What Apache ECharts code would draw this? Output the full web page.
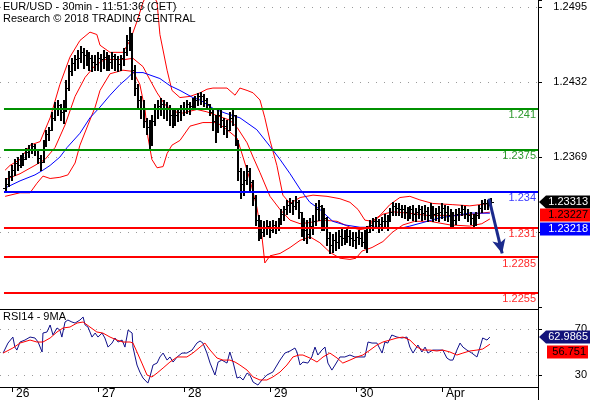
<!DOCTYPE html>
<html><head><meta charset="utf-8">
<script src="https://cdn.jsdelivr.net/npm/echarts@6/dist/echarts.min.js"></script>
<style>html,body{margin:0;padding:0;background:#fff}#c{width:590px;height:400px}</style>
</head><body><div id="c"></div>
<script>
// ---------------- DATA ----------------
const firstBar = -2; // bar index of first bar (day "26" starts at index 0, 30 bars per day tick)
const barOpen = [
1.2343,1.2346,1.2353,1.2358,1.2364,1.2362,1.2368,1.2367,1.2373,1.2376,
1.2378,1.2375,1.2368,1.2365,1.2379,1.2388,1.2392,1.2402,1.2409,1.2413,
1.2407,1.2410,1.2427,1.2441,1.2448,1.2451,1.2452,1.2457,1.2455,1.2451,
1.2452,1.2449,1.2447,1.2452,1.2451,1.2453,1.2451,1.2449,1.2454,1.2451,
1.2447,1.2452,1.2457,1.2467,1.2472,1.2442,1.2427,1.2417,1.2409,1.2399,
1.2394,1.2383,1.2399,1.2410,1.2412,1.2414,1.2409,1.2410,1.2404,1.2402,
1.2404,1.2407,1.2409,1.2410,1.2414,1.2412,1.2415,1.2417,1.2420,1.2420,
1.2417,1.2414,1.2407,1.2399,1.2394,1.2404,1.2400,1.2395,1.2392,1.2402,
1.2404,1.2383,1.2357,1.2346,1.2350,1.2357,1.2348,1.2335,1.2316,1.2309,
1.2306,1.2309,1.2311,1.2308,1.2312,1.2309,1.2315,1.2321,1.2325,1.2329,
1.2330,1.2328,1.2331,1.2323,1.2309,1.2308,1.2304,1.2311,1.2315,1.2325,
1.2328,1.2315,1.2318,1.2301,1.2295,1.2299,1.2298,1.2303,1.2301,1.2304,
1.2303,1.2301,1.2299,1.2302,1.2301,1.2298,1.2299,1.2306,1.2312,1.2315,
1.2315,1.2313,1.2315,1.2315,1.2318,1.2323,1.2328,1.2326,1.2325,1.2325,
1.2323,1.2323,1.2325,1.2321,1.2323,1.2325,1.2322,1.2324,1.2320,1.2325,
1.2321,1.2322,1.2323,1.2326,1.2323,1.2320,1.2318,1.2316,1.2321,1.2323,
1.2325,1.2321,1.2320,1.2318,1.2316,1.2320,1.2326,1.2330,1.2330,1.2329];
const barHigh = [
1.2351,1.2357,1.2362,1.2367,1.2369,1.2371,1.2372,1.2377,1.2379,1.2381,
1.2380,1.2375,1.2371,1.2383,1.2392,1.2394,1.2407,1.2415,1.2417,1.2414,
1.2417,1.2434,1.2446,1.2452,1.2455,1.2459,1.2462,1.2461,1.2459,1.2457,
1.2455,1.2455,1.2457,1.2456,1.2459,1.2457,1.2455,1.2457,1.2456,1.2454,
1.2455,1.2461,1.2472,1.2478,1.2473,1.2446,1.2430,1.2420,1.2417,1.2402,
1.2400,1.2404,1.2414,1.2417,1.2419,1.2417,1.2415,1.2413,1.2410,1.2409,
1.2410,1.2413,1.2415,1.2417,1.2415,1.2419,1.2420,1.2423,1.2424,1.2422,
1.2419,1.2414,1.2409,1.2404,1.2409,1.2410,1.2402,1.2400,1.2407,1.2410,
1.2404,1.2383,1.2360,1.2357,1.2362,1.2360,1.2350,1.2337,1.2320,1.2316,
1.2315,1.2316,1.2315,1.2316,1.2315,1.2318,1.2325,1.2328,1.2333,1.2335,
1.2333,1.2336,1.2333,1.2323,1.2318,1.2316,1.2318,1.2320,1.2330,1.2333,
1.2329,1.2326,1.2319,1.2306,1.2304,1.2306,1.2308,1.2309,1.2308,1.2309,
1.2308,1.2306,1.2306,1.2308,1.2306,1.2308,1.2311,1.2316,1.2318,1.2319,
1.2317,1.2319,1.2321,1.2320,1.2326,1.2331,1.2330,1.2330,1.2329,1.2329,
1.2327,1.2328,1.2329,1.2326,1.2329,1.2328,1.2329,1.2327,1.2330,1.2328,
1.2326,1.2328,1.2330,1.2329,1.2328,1.2325,1.2323,1.2325,1.2326,1.2329,
1.2328,1.2325,1.2323,1.2321,1.2323,1.2329,1.2333,1.2334,1.2333,1.2335];
const barLow = [
1.2341,1.2345,1.2350,1.2354,1.2358,1.2361,1.2362,1.2367,1.2369,1.2372,
1.2371,1.2364,1.2358,1.2365,1.2378,1.2383,1.2392,1.2400,1.2404,1.2400,
1.2398,1.2408,1.2425,1.2438,1.2442,1.2444,1.2449,1.2444,1.2446,1.2442,
1.2441,1.2442,1.2442,1.2441,1.2444,1.2442,1.2442,1.2444,1.2442,1.2441,
1.2442,1.2446,1.2455,1.2459,1.2435,1.2421,1.2411,1.2402,1.2394,1.2388,
1.2375,1.2379,1.2396,1.2402,1.2404,1.2402,1.2400,1.2396,1.2394,1.2396,
1.2399,1.2400,1.2404,1.2406,1.2405,1.2409,1.2410,1.2413,1.2414,1.2412,
1.2409,1.2404,1.2392,1.2382,1.2390,1.2394,1.2388,1.2386,1.2392,1.2396,
1.2379,1.2350,1.2335,1.2337,1.2346,1.2341,1.2329,1.2312,1.2299,1.2301,
1.2303,1.2304,1.2302,1.2306,1.2305,1.2308,1.2313,1.2316,1.2321,1.2323,
1.2321,1.2325,1.2318,1.2303,1.2299,1.2297,1.2301,1.2304,1.2312,1.2316,
1.2308,1.2308,1.2295,1.2288,1.2289,1.2291,1.2293,1.2295,1.2296,1.2298,
1.2295,1.2294,1.2293,1.2296,1.2294,1.2293,1.2289,1.2306,1.2308,1.2309,
1.2306,1.2308,1.2309,1.2308,1.2315,1.2320,1.2320,1.2320,1.2319,1.2318,
1.2316,1.2318,1.2316,1.2315,1.2318,1.2316,1.2317,1.2315,1.2318,1.2315,
1.2316,1.2315,1.2318,1.2316,1.2315,1.2311,1.2310,1.2313,1.2316,1.2320,
1.2318,1.2315,1.2313,1.2311,1.2312,1.2318,1.2323,1.2325,1.2325,1.2328];
const barClose = [
1.2346,1.2353,1.2358,1.2364,1.2362,1.2368,1.2367,1.2373,1.2376,1.2378,
1.2375,1.2368,1.2365,1.2379,1.2388,1.2392,1.2402,1.2409,1.2413,1.2407,
1.2410,1.2427,1.2441,1.2448,1.2451,1.2452,1.2457,1.2455,1.2451,1.2452,
1.2449,1.2447,1.2452,1.2451,1.2453,1.2451,1.2449,1.2454,1.2451,1.2447,
1.2452,1.2457,1.2467,1.2472,1.2442,1.2427,1.2417,1.2409,1.2399,1.2394,
1.2383,1.2399,1.2410,1.2412,1.2414,1.2409,1.2410,1.2404,1.2402,1.2404,
1.2407,1.2409,1.2410,1.2414,1.2412,1.2415,1.2417,1.2420,1.2420,1.2417,
1.2414,1.2407,1.2399,1.2394,1.2404,1.2400,1.2395,1.2392,1.2402,1.2404,
1.2383,1.2357,1.2346,1.2350,1.2357,1.2348,1.2335,1.2316,1.2309,1.2306,
1.2309,1.2311,1.2308,1.2312,1.2309,1.2315,1.2321,1.2325,1.2329,1.2330,
1.2328,1.2331,1.2323,1.2309,1.2308,1.2304,1.2311,1.2315,1.2325,1.2328,
1.2315,1.2318,1.2301,1.2295,1.2299,1.2298,1.2303,1.2301,1.2304,1.2303,
1.2301,1.2299,1.2302,1.2301,1.2298,1.2299,1.2306,1.2312,1.2315,1.2315,
1.2313,1.2315,1.2315,1.2318,1.2323,1.2328,1.2326,1.2325,1.2325,1.2323,
1.2323,1.2325,1.2321,1.2323,1.2325,1.2322,1.2324,1.2320,1.2325,1.2321,
1.2322,1.2323,1.2326,1.2323,1.2320,1.2318,1.2316,1.2321,1.2323,1.2325,
1.2321,1.2320,1.2318,1.2316,1.2320,1.2326,1.2330,1.2330,1.2329,1.23313];

const bbUpper = [[-2.4,1.2358],[-0.7,1.2362],[2.8,1.2367],[6.3,1.2379],[9.8,1.2382],[13.3,1.2402],[16.7,1.2430],[20.2,1.2453],[23.7,1.2467],[27.2,1.2474],[29.6,1.2472],[30.7,1.2463],[34.2,1.2457],[38.7,1.2457],[41.2,1.2467],[43.6,1.2483],[45.7,1.2499],[48.1,1.2511],[50.6,1.2499],[51.6,1.2472],[54.1,1.2442],[55.8,1.2425],[58.6,1.2419],[62.1,1.2420],[65.6,1.2423],[68.0,1.2426],[70.1,1.2427],[75.0,1.2427],[77.8,1.2421],[79.5,1.2427],[82.0,1.2425],[84.1,1.2423],[86.5,1.2417],[88.2,1.2402],[90.0,1.2383],[92.4,1.2362],[94.5,1.2337],[97.0,1.2330],[100.5,1.2335],[105.0,1.2337],[109.9,1.2336],[114.4,1.2334],[117.9,1.2331],[120.7,1.2325],[123.1,1.2316],[125.6,1.2315],[128.4,1.2320],[131.8,1.2329],[135.3,1.2335],[138.8,1.2336],[142.3,1.2333],[146.8,1.2330],[153.8,1.2329],[159.7,1.2328],[166.7,1.2330]];
const bbMiddle = [[-2.4,1.2350],[2.8,1.2355],[8.0,1.2362],[11.5,1.2367],[15.0,1.2377],[18.5,1.2396],[22.0,1.2420],[25.5,1.2436],[29.0,1.2446],[32.4,1.2451],[35.9,1.2451],[39.4,1.2451],[42.2,1.2452],[45.7,1.2445],[48.1,1.2434],[50.6,1.2423],[53.4,1.2413],[56.8,1.2407],[59.6,1.2406],[64.5,1.2409],[68.0,1.2407],[72.5,1.2403],[76.0,1.2400],[78.5,1.2394],[82.0,1.2381],[84.1,1.2369],[86.5,1.2356],[90.0,1.2336],[93.5,1.2325],[97.0,1.2316],[100.5,1.2313],[103.9,1.2314],[108.5,1.2316],[113.4,1.2315],[117.9,1.2310],[121.4,1.2308],[123.8,1.2309],[125.9,1.2315],[129.4,1.2321],[132.8,1.2323],[137.8,1.2322],[144.8,1.2320],[149.3,1.2320],[155.2,1.2320],[160.8,1.2321],[166.7,1.23227]];
const bbLower = [[-2.4,1.2336],[2.8,1.2339],[6.3,1.2339],[8.7,1.2347],[10.8,1.2353],[13.3,1.2351],[16.7,1.2352],[19.5,1.2354],[22.0,1.2364],[23.7,1.2379],[26.5,1.2396],[29.0,1.2411],[30.7,1.2425],[34.2,1.2439],[38.7,1.2442],[42.2,1.2441],[44.6,1.2430],[46.4,1.2409],[47.4,1.2386],[48.8,1.2367],[50.6,1.2360],[52.7,1.2361],[54.1,1.2372],[55.8,1.2379],[58.6,1.2383],[62.1,1.2395],[66.6,1.2398],[71.5,1.2398],[75.0,1.2392],[78.5,1.2385],[80.6,1.2369],[83.0,1.2350],[85.4,1.2327],[87.2,1.2302],[88.2,1.2280],[90.0,1.2286],[93.5,1.2288],[97.0,1.2293],[100.5,1.2299],[103.9,1.2302],[107.4,1.2297],[110.9,1.2289],[114.4,1.2284],[117.9,1.2283],[120.0,1.2284],[122.1,1.2290],[125.6,1.2293],[129.4,1.2298],[132.8,1.2306],[136.4,1.2312],[140.5,1.2315],[145.8,1.2315],[152.8,1.2312],[159.7,1.2311],[163.9,1.2313],[166.7,1.2317]];
const maBlue = [[-2.4,1.2343],[2.8,1.2349],[8.0,1.2354],[10.8,1.2358],[13.3,1.2362],[16.7,1.2369],[19.2,1.2377],[23.7,1.2389],[27.2,1.2402],[30.7,1.2411],[34.2,1.2421],[37.7,1.2430],[40.1,1.2435],[42.2,1.2440],[45.7,1.2440],[51.6,1.2435],[55.1,1.2429],[58.6,1.2425],[63.1,1.2419],[65.6,1.2417],[70.1,1.2410],[74.3,1.2406],[79.5,1.2402],[85.4,1.2392],[90.0,1.2378],[93.5,1.2367],[97.0,1.2355],[100.5,1.2342],[103.9,1.2331],[107.4,1.2325],[111.9,1.2315],[116.1,1.2312],[121.4,1.2310],[128.4,1.2310],[135.3,1.2309],[138.8,1.2311],[143.4,1.2314],[149.3,1.2318],[155.2,1.2320],[159.7,1.2322],[166.7,1.23218]];

const rsiLine = [[-3.1,49.1],[-1.4,57.8],[0.3,63.0],[1.0,54.3],[1.7,51.7],[2.8,58.7],[4.5,60.4],[6.3,63.0],[8.0,62.2],[9.1,58.7],[10.5,50.0],[10.8,66.5],[12.2,67.4],[13.3,73.5],[14.3,64.8],[15.7,70.9],[16.7,69.1],[17.4,63.0],[18.5,76.1],[19.5,77.8],[20.9,76.1],[22.0,75.2],[23.7,77.8],[24.8,80.4],[25.5,73.5],[26.5,71.7],[27.2,67.4],[27.9,63.0],[29.0,66.5],[30.0,63.0],[31.4,66.5],[32.4,62.2],[33.5,54.3],[34.9,57.8],[35.9,62.2],[37.0,58.7],[38.4,60.4],[39.4,54.3],[40.5,69.1],[41.9,66.5],[42.2,54.3],[43.6,38.7],[44.6,32.6],[45.7,27.4],[47.4,23.0],[48.1,28.3],[49.2,38.7],[50.6,40.4],[51.6,45.7],[52.7,49.1],[54.1,43.0],[55.1,45.7],[56.2,41.3],[57.6,45.7],[59.3,49.1],[61.0,49.1],[62.8,51.7],[64.5,57.8],[65.6,59.6],[66.6,57.8],[68.0,49.1],[69.1,40.4],[70.8,30.0],[71.9,41.3],[73.2,43.0],[75.0,40.4],[76.0,50.0],[77.1,41.3],[78.5,27.4],[79.5,28.3],[80.6,25.7],[82.0,31.7],[83.0,30.0],[84.1,23.9],[85.8,21.3],[87.2,25.7],[88.9,30.0],[91.0,32.6],[93.5,43.0],[95.2,49.1],[97.0,50.9],[98.7,53.5],[99.4,50.0],[100.5,38.7],[101.5,41.3],[103.2,40.4],[104.6,45.7],[105.7,54.3],[106.7,47.4],[108.1,51.7],[109.2,54.3],[110.2,40.4],[111.6,34.3],[112.7,38.7],[114.4,45.7],[116.1,45.7],[117.9,47.4],[119.6,45.7],[121.4,45.7],[123.1,45.7],[124.2,58.7],[125.6,57.8],[127.3,57.8],[129.1,49.1],[130.1,58.7],[131.1,57.8],[132.5,64.8],[134.3,63.0],[136.0,62.2],[137.8,63.0],[138.8,54.3],[139.9,49.1],[141.6,56.1],[143.0,50.0],[144.1,54.3],[145.1,49.1],[146.8,51.7],[148.6,51.7],[150.3,51.7],[151.7,44.8],[152.8,43.0],[153.8,43.0],[155.2,51.7],[156.3,57.8],[157.3,54.3],[158.7,51.7],[160.4,49.1],[162.2,45.7],[163.2,53.5],[164.2,62.2],[165.7,60.4],[166.7,62.9865]];
const rsiMA = [[-3.1,49.1],[0.3,53.5],[2.8,57.8],[6.3,60.4],[8.7,58.7],[10.8,58.7],[13.3,62.2],[15.7,67.4],[17.8,70.9],[20.2,71.7],[22.7,75.2],[24.8,76.1],[27.2,71.7],[29.6,67.4],[31.7,66.5],[34.2,63.0],[36.6,60.4],[38.7,58.7],[41.2,58.7],[42.2,57.8],[43.6,50.0],[45.3,40.4],[47.1,30.0],[48.8,28.3],[50.6,31.7],[52.7,36.1],[55.1,41.3],[57.6,45.7],[61.0,45.7],[63.1,49.1],[65.6,54.3],[67.3,57.8],[69.1,51.7],[71.5,44.8],[73.6,43.0],[76.0,43.0],[77.8,41.3],[79.5,38.7],[82.0,34.3],[84.1,28.3],[86.5,25.7],[88.9,25.7],[91.0,28.3],[93.5,32.6],[95.9,38.7],[98.0,45.7],[100.1,47.4],[101.5,47.4],[103.9,44.8],[106.4,41.3],[108.5,45.7],[110.9,49.1],[113.4,44.8],[115.4,40.4],[117.9,43.0],[120.3,45.7],[122.4,47.4],[124.9,51.7],[127.3,56.1],[129.4,58.7],[131.8,60.4],[134.3,62.2],[136.4,63.0],[138.8,60.4],[141.3,54.3],[143.4,51.7],[145.8,51.7],[148.2,50.9],[150.3,51.7],[152.8,50.0],[155.2,47.4],[157.3,49.1],[159.7,50.9],[162.2,51.7],[164.2,52.6],[166.7,56.751]];

const levelValues = [1.241, 1.2375, 1.234, 1.231, 1.2285, 1.2255];
const dayTicks = [0, 30, 60, 90, 120, 150];
const dayLabels = ['26', '27', '28', '29', '30', 'Apr'];
const priceLabelValues = [1.2495, 1.2432, 1.2369];
const rsiTickValues = [30, 70];
const rsiGridValues = [30, 50, 70];
const lastPrice = 1.23313, lastBBMid = 1.23227, lastMA = 1.23218;
const lastRSI = 62.9865, lastRSIMA = 56.751;
const forecastFrom = [166.4, 1.2334], forecastTo = [171.0, 1.2288];

// ---------------- STYLE / LAYOUT ----------------
const FONT = 'Arial, "Liberation Sans", sans-serif';
const X_MIN = -4.19, X_MAX = 183.5, LEVEL_START = -2.8;
const PLOT_W = 538;
const GRID_DOT = '#9a9a9a';
const levelColors = ['#009000', '#009000', '#0000ff', '#ff0000', '#ff0000', '#ff0000'];
const levelTextColors = ['#2f9a2f', '#2f9a2f', '#3a3aff', '#ff2a2a', '#ff2a2a', '#ff2a2a'];

const bars = barClose.map((c, k) => [firstBar + k, barOpen[k], barHigh[k], barLow[k], c]);

function renderBar(params, api) {
  const x = api.value(0);
  const pO = api.coord([x, api.value(1)]);
  const pH = api.coord([x, api.value(2)]);
  const pL = api.coord([x, api.value(3)]);
  const pC = api.coord([x, api.value(4)]);
  const cx = Math.round(pH[0]);
  const yo = Math.round(pO[1]) + 0.5, yc = Math.round(pC[1]) + 0.5;
  const st1 = {stroke: '#000', lineWidth: 1};
  return {type: 'group', children: [
    {type: 'line', shape: {x1: cx, y1: Math.round(pH[1]), x2: cx, y2: Math.round(pL[1]) + 1}, style: {stroke: '#000', lineWidth: 2}},
    {type: 'line', shape: {x1: cx - 3, y1: yo, x2: cx, y2: yo}, style: st1},
    {type: 'line', shape: {x1: cx, y1: yc, x2: cx + 3, y2: yc}, style: st1}
  ]};
}

function lineSeries(data, color, xi, yi, extra) {
  return Object.assign({type: 'line', data, xAxisIndex: xi, yAxisIndex: yi, showSymbol: false, symbol: 'none',
    lineStyle: {color, width: 1}, z: 2, clip: true, silent: true, animation: false}, extra || {});
}

const levelMarks = levelValues.map((v, i) => [
  {coord: [LEVEL_START, v], lineStyle: {color: levelColors[i], width: 2, type: 'solid'},
   label: {show: true, position: 'insideEndBottom', formatter: String(v), color: levelTextColors[i],
           fontSize: 11, fontFamily: FONT, distance: [2, 1]}},
  {coord: [X_MAX, v]}
]);

const chart = echarts.init(document.getElementById('c'), null, {renderer: 'canvas'});
const titleStyle = {fontSize: 11, fontWeight: 'normal', color: '#000', fontFamily: FONT};
chart.setOption({
  animation: false,
  backgroundColor: '#fff',
  title: [
    {text: 'EUR/USD - 30min - 11:51:36 (CET)', left: 3, top: 1, padding: 0, textStyle: titleStyle, z: 20},
    {text: 'Research \u00a9 2018 TRADING CENTRAL', left: 3, top: 13, padding: 0, textStyle: titleStyle, z: 20},
    {text: 'RSI14 - 9MA', left: 3, top: 311, padding: 0, textStyle: titleStyle, z: 20}
  ],
  grid: [
    {left: 0, top: 0, width: PLOT_W, height: 307},
    {left: 0, top: 309, width: PLOT_W, height: 78}
  ],
  xAxis: [
    {type: 'value', gridIndex: 0, min: X_MIN, max: X_MAX, show: false},
    {type: 'value', gridIndex: 1, min: X_MIN, max: X_MAX, position: 'bottom',
     axisLine: {show: true, onZero: false, lineStyle: {color: '#000', width: 1}},
     axisTick: {show: true, customValues: dayTicks, length: 5, lineStyle: {color: '#000'}},
     axisLabel: {show: true, customValues: dayTicks, formatter: v => { const k = dayTicks.indexOf(v); return k >= 0 ? dayLabels[k] : ''; },
                 align: 'left', margin: 1, padding: [0, 0, 0, 4], fontSize: 12, color: '#000', fontFamily: FONT},
     splitLine: {show: false}},
    {type: 'value', gridIndex: 1, min: X_MIN, max: X_MAX, position: 'top',
     axisLine: {show: true, onZero: false, lineStyle: {color: '#000', width: 1}},
     axisTick: {show: false}, axisLabel: {show: false}, splitLine: {show: false}}
  ],
  yAxis: [
    {type: 'value', gridIndex: 0, position: 'right', min: 1.2243, max: 1.2501, interval: 0.0063,
     axisLine: {show: true, onZero: false, lineStyle: {color: '#000'}},
     axisTick: {show: true, length: 4, lineStyle: {color: '#000'}},
     axisLabel: {formatter: v => priceLabelValues.some(p => Math.abs(p - v) < 1e-7) ? v.toFixed(4) : '',
                 align: 'right', margin: 49, fontSize: 11, color: '#000', fontFamily: FONT},
     splitLine: {show: true, showMinLine: false, showMaxLine: false, lineStyle: {color: GRID_DOT, type: [1, 7], width: 1}}},
    {type: 'value', gridIndex: 1, position: 'right', min: 19.6, max: 87.4,
     axisLine: {show: true, onZero: false, lineStyle: {color: '#000'}},
     axisTick: {show: true, customValues: rsiTickValues, length: 4, lineStyle: {color: '#000'}},
     axisLabel: {show: true, customValues: rsiTickValues, align: 'right', margin: 49, fontSize: 11, color: '#000', fontFamily: FONT},
     splitLine: {show: false}}
  ],
  series: [
    lineSeries(bbUpper, '#ff0000', 0, 0),
    lineSeries(bbLower, '#ff0000', 0, 0),
    lineSeries(bbMiddle, '#ff0000', 0, 0, {
      markLine: {silent: true, animation: false, symbol: ['none', 'none'], z: 5, data: levelMarks}
    }),
    lineSeries(maBlue, '#0000ff', 0, 0, {
      markLine: {silent: true, animation: false, symbol: ['none', 'arrow'], symbolSize: [10, 14], z: 6,
        lineStyle: {color: '#1b2a8c', width: 3, type: 'solid'}, label: {show: false},
        data: [[{coord: forecastFrom}, {coord: forecastTo}]]}
    }),
    {type: 'custom', xAxisIndex: 0, yAxisIndex: 0, data: bars, renderItem: renderBar, z: 3, clip: true, silent: true,
     encode: {x: 0, y: [1, 2, 3, 4]}, animation: false},
    lineSeries(rsiLine, '#10108a', 1, 1, {z: 3}),
    lineSeries(rsiMA, '#ff0000', 1, 1, {z: 3,
      markLine: {silent: true, animation: false, symbol: ['none', 'none'], z: 1, label: {show: false},
        lineStyle: {color: GRID_DOT, type: [1, 7], width: 1},
        data: rsiGridValues.map(v => ({yAxis: v}))}})
  ]
});

// value tags on the right axis (positioned through the axis scales)
(function drawTags() {
  const py = (ax, v) => chart.convertToPixel({yAxisIndex: ax}, v);
  const items = [{type: 'line', shape: {x1: PLOT_W + 0.5, y1: 0, x2: PLOT_W + 0.5, y2: 400}, style: {stroke: '#000', lineWidth: 1}, z: 9}];
  const H = 13;
  function tag(y, text, fill, color, arrow, x0, x1) {
    y = Math.round(y);
    if (arrow) {
      items.push({type: 'polygon', shape: {points: [[x0, y], [x0 + 7, y - H / 2], [x1, y - H / 2], [x1, y + H / 2], [x0 + 7, y + H / 2]]}, style: {fill}, z: 10});
    } else {
      items.push({type: 'rect', shape: {x: x0, y: y - H / 2, width: x1 - x0, height: H}, style: {fill}, z: 10});
    }
    items.push({type: 'text', x: x1 - 2, y: y, style: {text, fill: color, font: '11px ' + FONT, align: 'right', verticalAlign: 'middle'}, z: 11});
  }
  const y1 = py(0, lastPrice);
  const y2 = Math.max(py(0, lastBBMid), y1 + 13.5);
  const y3 = Math.max(py(0, lastMA), y2 + 13.5);
  tag(y1, lastPrice.toFixed(5), '#000000', '#ffffff', true, 539, 590);
  tag(y2, lastBBMid.toFixed(5), '#ff0000', '#000000', false, 540, 590);
  tag(y3, lastMA.toFixed(5), '#0000ff', '#ffffff', false, 540, 590);
  const r1 = py(1, lastRSI);
  const r2 = Math.max(py(1, lastRSIMA), r1 + 15);
  tag(r1, String(lastRSI), '#12127a', '#ffffff', true, 539, 590);
  tag(r2, String(lastRSIMA), '#ff0000', '#000000', false, 547, 588);
  chart.setOption({graphic: items});
})();
</script>
</body></html>
